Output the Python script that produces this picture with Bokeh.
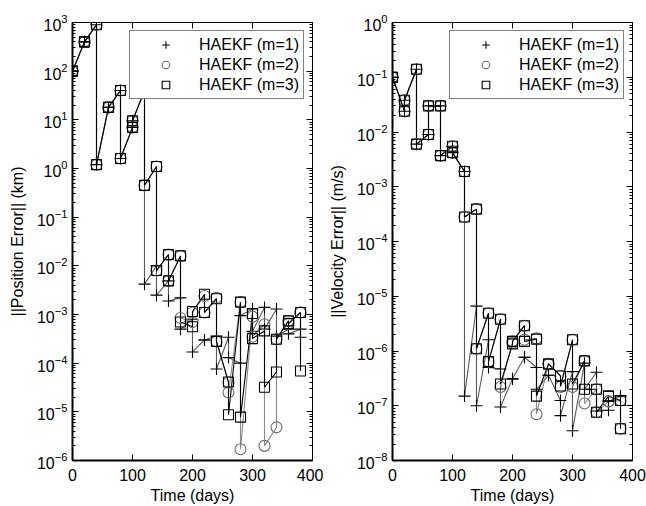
from bokeh.plotting import figure
from bokeh.models import Range1d, FixedTicker, LogAxis, LinearAxis, Legend, LegendItem
from bokeh.layouts import row
from bokeh.embed import file_html
from bokeh.resources import INLINE

days = [0, 20, 40, 60, 80, 100, 120, 140, 160, 180, 200, 220, 240, 260, 280, 300, 320, 340, 360, 380]
series_labels = ["HAEKF (m=1)", "HAEKF (m=2)", "HAEKF (m=3)"]

# Position error (km): value before and after each update
pos_m1_pre = [100, 400, 900, 18, 40, 7, 40, 1.0e-2, 4.9e-3, 2.2e-3, 8e-4, 3.0e-4, 3.6e-4, 3.4e-4, 1.0e-4, 1.3e-3, 1.4e-3, 1.3e-3, 5e-4, 5e-4]
pos_m1_post = [100, 400, 1.2, 18, 1.6, 9.5, 4.2e-3, 2.5e-3, 1.9e-3, 5e-4, 1.7e-4, 3.0e-4, 7.6e-5, 1.3e-4, 9.5e-4, 4.5e-4, 5e-4, 3.6e-4, 4e-4, 3.4e-4]
pos_m2_pre = [100, 400, 900, 18, 40, 7, 40, 1.1, 1.7e-2, 1.6e-2, 7e-4, 2.4e-3, 2.2e-3, 4e-5, 1.8e-3, 9e-4, 6.3e-4, 4.8e-6, 7.4e-4, 1.1e-3]
pos_m2_post = [100, 400, 1.2, 18, 1.6, 9.5, 0.45, 8e-3, 4.9e-3, 8.5e-4, 1.1e-3, 1.1e-3, 2.8e-4, 2.5e-5, 1.7e-6, 3.5e-4, 2e-6, 3.1e-4, 6.5e-4, 1.1e-3]
pos_m3_pre = [100, 400, 900, 18, 40, 7, 40, 1.1, 1.7e-2, 1.6e-2, 5.6e-4, 2.6e-3, 2.1e-3, 4.1e-5, 1.8e-3, 1.05e-3, 4.6e-4, 6.6e-5, 7.4e-4, 1.1e-3]
pos_m3_post = [100, 400, 1.2, 18, 1.6, 9.5, 0.45, 8e-3, 4.9e-3, 7e-4, 1.15e-3, 1.1e-3, 2.8e-4, 8.7e-6, 7.8e-6, 3.2e-4, 3.2e-5, 3.1e-4, 6.5e-4, 6.9e-5]

# Velocity error (m/s)
vel_m1_pre = [0.1, 2.4e-2, 0.14, 9e-3, 3e-2, 5.5e-3, 1.9e-3, 6.6e-6, 1.6e-6, 4.7e-7, 3.1e-7, 7.7e-7, 5e-7, 3.6e-7, 1.25e-7, 4.2e-7, 6e-7, 4.1e-7, 8.3e-8, 1.5e-7]
vel_m1_post = [0.1, 3.8e-2, 6e-3, 3e-2, 3.7e-3, 4.2e-3, 1.5e-7, 1e-7, 5e-7, 9.5e-8, 3.1e-7, 7.7e-7, 2e-7, 3.6e-7, 6.6e-8, 3.5e-8, 2e-7, 8e-8, 1.2e-7, 1.5e-7]
vel_m2_pre = [0.1, 2.4e-2, 0.14, 9e-3, 3e-2, 5.5e-3, 1.9e-3, 3.9e-4, 4.9e-6, 3.8e-6, 1.4e-6, 2.9e-6, 1.7e-6, 5.8e-7, 3.5e-7, 1.6e-6, 6.6e-7, 2e-7, 1.2e-7, 1.25e-7]
vel_m2_post = [0.1, 3.8e-2, 6e-3, 3e-2, 3.7e-3, 4.2e-3, 2.8e-4, 1.1e-6, 6.4e-7, 2.2e-7, 1.5e-6, 1.6e-6, 7e-8, 5.8e-7, 2.2e-7, 2.2e-7, 1.1e-7, 7.6e-8, 1.2e-7, 3.8e-8]
vel_m3_pre = [0.1, 2.4e-2, 0.14, 9e-3, 3e-2, 5.5e-3, 1.9e-3, 3.9e-4, 4.9e-6, 3.8e-6, 1.35e-6, 2.9e-6, 1.65e-6, 5.8e-7, 3.5e-7, 1.6e-6, 6.6e-7, 2e-7, 1.5e-7, 1.25e-7]
vel_m3_post = [0.1, 3.8e-2, 6e-3, 3e-2, 3.7e-3, 4.2e-3, 2.8e-4, 1.1e-6, 6.4e-7, 2.5e-7, 1.5e-6, 1.5e-6, 1.5e-7, 5.8e-7, 2.3e-7, 2.5e-7, 2e-7, 7.6e-8, 1.5e-7, 3.8e-8]

pos_y_ticks = [1e-6, 1e-5, 1e-4, 1e-3, 1e-2, 1e-1, 1e0, 1e1, 1e2, 1e3]
vel_y_ticks = [1e-8, 1e-7, 1e-6, 1e-5, 1e-4, 1e-3, 1e-2, 1e-1, 1e0]
x_ticks = [0, 100, 200, 300, 400]

FONT = "Liberation Sans"
line_colors = ["#5a5a5a", "#8a8a8a", "black"]
marker_colors = ["black", "#6a6a6a", "black"]
markers = ["cross", "circle", "square"]
marker_sizes = [12, 11, 10]


def interleave(pre, post):
    xs, ys = [], []
    for t, a, b in zip(days, pre, post):
        xs += [t, t]
        ys += [a, b]
    return xs, ys


def minor_for(ticks):
    out = []
    for t in ticks[:-1]:
        out += [k * t for k in range(2, 10)]
    return out


def make_panel(series, yticks, ylabel, left_border, right_border):
    p = figure(width=left_border + 240 + right_border, height=506,
               y_axis_type="log", x_range=Range1d(0, 400),
               y_range=Range1d(yticks[0], yticks[-1]),
               output_backend="svg", toolbar_location=None,
               min_border_left=left_border, min_border_right=right_border,
               min_border_top=22, min_border_bottom=44)
    p.xgrid.visible = False
    p.ygrid.visible = False
    p.outline_line_color = "black"
    p.outline_line_width = 1
    p.background_fill_color = "white"
    p.border_fill_color = "white"

    yt = FixedTicker(ticks=yticks, minor_ticks=minor_for(yticks))
    xt = FixedTicker(ticks=x_ticks, minor_ticks=[])

    for ax in p.yaxis:
        ax.ticker = yt
        ax.axis_label = ylabel
    for ax in p.xaxis:
        ax.ticker = xt
        ax.axis_label = "Time (days)"
    for ax in p.xaxis + p.yaxis:
        ax.axis_line_width = 2
        ax.axis_line_color = "black"
        ax.major_tick_in = 6
        ax.major_tick_out = 0
        ax.minor_tick_in = 3
        ax.minor_tick_out = 0
        ax.major_label_text_font = FONT
        ax.major_label_text_font_size = "16px"
        ax.major_label_text_color = "black"
        ax.axis_label_text_font = FONT
        ax.axis_label_text_font_size = "16px"
        ax.axis_label_text_font_style = "normal"
        ax.axis_label_text_color = "black"
    for ax in p.yaxis:
        ax.major_label_standoff = 5
        ax.axis_label_standoff = 8
    for ax in p.xaxis:
        ax.major_label_standoff = 8
        ax.axis_label_standoff = 3

    ra = LogAxis(ticker=FixedTicker(ticks=yticks, minor_ticks=minor_for(yticks)),
                 major_tick_in=6, major_tick_out=0, minor_tick_in=3, minor_tick_out=0,
                 major_label_text_font_size="1px", major_label_text_alpha=0,
                 major_label_standoff=0,
                 axis_line_color="black", axis_line_width=1)
    p.add_layout(ra, "right")
    ta = LinearAxis(ticker=FixedTicker(ticks=x_ticks, minor_ticks=[]),
                    major_tick_in=6, major_tick_out=0, minor_tick_in=0, minor_tick_out=0,
                    major_label_text_font_size="1px", major_label_text_alpha=0,
                    major_label_standoff=0,
                    axis_line_color="black", axis_line_width=1)
    p.add_layout(ta, "above")

    items = []
    for i, (pre, post) in enumerate(series):
        xs, ys = interleave(pre, post)
        p.line(xs, ys, line_color=line_colors[i], line_width=1.1)
    for i, (pre, post) in enumerate(series):
        xs, ys = interleave(pre, post)
        r = p.scatter(xs, ys, marker=markers[i], size=marker_sizes[i],
                      line_color=marker_colors[i], fill_alpha=0, line_width=1.1)
        items.append(LegendItem(label=series_labels[i], renderers=[r]))

    leg = Legend(items=items, location="top_right", margin=8, padding=4,
                 spacing=1, glyph_width=63, glyph_height=19, label_height=19,
                 label_standoff=2, label_text_font=FONT, label_text_font_size="16px",
                 label_text_color="black",
                 border_line_color="black", border_line_width=1.5,
                 background_fill_color="white", background_fill_alpha=1)
    p.add_layout(leg, "center")
    return p


p1 = make_panel([(pos_m1_pre, pos_m1_post), (pos_m2_pre, pos_m2_post), (pos_m3_pre, pos_m3_post)],
                pos_y_ticks, "||Position Error|| (km)", 72, 11)
p2 = make_panel([(vel_m1_pre, vel_m1_post), (vel_m2_pre, vel_m2_post), (vel_m3_pre, vel_m3_post)],
                vel_y_ticks, "||Velocity Error|| (m/s)", 69, 14)

layout = row(p1, p2)
open("out.html", "w").write(file_html(layout, INLINE))
